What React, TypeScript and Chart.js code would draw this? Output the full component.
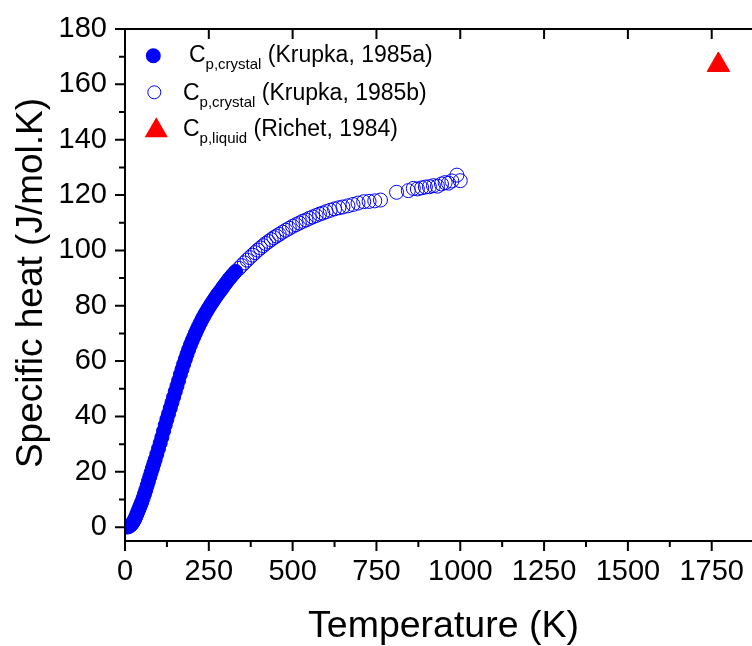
import React, { useEffect, useRef } from 'react';
import { Chart, registerables } from 'chart.js';

Chart.register(...registerables);

// ---- Data ----
const FILLED_T = [5, 8, 11, 14, 17, 20, 23, 26, 29, 32, 35, 38, 41, 44, 47, 50, 54, 58, 62, 66, 70, 74, 78, 82, 86, 90, 95, 100, 105, 110, 115, 120, 125, 130, 135, 140, 145, 150, 155, 160, 165, 170, 175, 180, 185, 190, 195, 200, 205, 210, 215, 220, 225, 230, 235, 240, 245, 250, 255, 260, 265, 270, 275, 280, 285, 290, 295, 300, 305, 310, 315, 320, 325, 330];
const FILLED_CP = [0.05, 0.1, 0.2, 0.4, 0.7, 1.1, 1.6, 2.2, 2.9, 3.7, 4.6, 5.5, 6.4, 7.3, 8.2, 9.1, 10.5, 11.9, 13.4, 15.0, 16.6, 18.2, 19.8, 21.3, 22.9, 24.4, 26.4, 28.4, 30.4, 32.5, 34.7, 36.9, 39.0, 41.0, 43.0, 45.0, 47.0, 49.0, 51.0, 53.0, 55.1, 57.0, 58.9, 60.7, 62.5, 64.2, 65.8, 67.3, 68.7, 70.1, 71.4, 72.7, 73.9, 75.1, 76.2, 77.3, 78.3, 79.3, 80.3, 81.2, 82.1, 83.0, 83.9, 84.7, 85.5, 86.3, 87.2, 88.0, 88.8, 89.6, 90.3, 91.0, 91.7, 92.4];

const OPEN_T = [340, 348, 356, 364, 372, 380, 388, 396, 404, 412, 420, 428, 436, 444, 452, 460, 470, 480, 490, 500, 510, 520, 530, 540, 550, 560, 570, 580, 590, 600, 612, 625, 638, 650, 665, 680, 695, 712, 728, 745, 762, 810, 845, 860, 872, 885, 896, 908, 920, 932, 944, 955, 965, 975, 990, 1000];
const OPEN_CP = [93.5, 94.5, 95.5, 96.5, 97.4, 98.3, 99.2, 100.1, 100.9, 101.7, 102.5, 103.2, 103.9, 104.6, 105.2, 105.8, 106.6, 107.3, 108.0, 108.7, 109.3, 109.9, 110.5, 111.0, 111.6, 112.1, 112.6, 113.1, 113.5, 114.0, 114.5, 115.0, 115.4, 115.7, 116.1, 116.6, 117.1, 117.6, 117.7, 117.9, 118.2, 121.0, 121.6, 122.4, 122.2, 122.6, 122.9, 123.0, 123.4, 123.2, 124.0, 124.5, 124.3, 125.1, 127.2, 125.2];

const LIQ_T = [1770];
const LIQ_CP = [167];

const X_MAJOR = [0, 250, 500, 750, 1000, 1250, 1500, 1750];
const X_MINOR = [125, 375, 625, 875, 1125, 1375, 1625, 1875];
const Y_MAJOR = [0, 20, 40, 60, 80, 100, 120, 140, 160, 180];
const Y_MINOR = [10, 30, 50, 70, 90, 110, 130, 150, 170];

const X_TITLE = 'Temperature (K)';
const Y_TITLE = 'Specific heat (J/mol.K)';

const LEGEND = [
  { main: 'C', sub: 'p,crystal', rest: ' (Krupka, 1985a)', lead: 6 },
  { main: 'C', sub: 'p,crystal', rest: ' (Krupka, 1985b)', lead: 0 },
  { main: 'C', sub: 'p,liquid', rest: ' (Richet, 1984)', lead: 0 },
];

const FONT = '"Liberation Sans", Arial, sans-serif';
const BLUE = '#0000ff';
const RED = '#ff0000';

const framePlugin = {
  id: 'originFrame',
  afterDatasetsDraw(chart: any) {
    const { ctx, chartArea } = chart;
    const { left, right, top, bottom } = chartArea;
    const xs = chart.scales.x;
    const ys = chart.scales.y;
    ctx.save();
    ctx.strokeStyle = '#000';
    ctx.lineWidth = 2;
    ctx.lineCap = 'butt';
    ctx.strokeRect(left, top, right - left, bottom - top);
    ctx.beginPath();
    X_MAJOR.forEach((v) => {
      const p = xs.getPixelForValue(v);
      ctx.moveTo(p, bottom);
      ctx.lineTo(p, bottom + 10);
      ctx.moveTo(p, top);
      ctx.lineTo(p, top + 10);
    });
    X_MINOR.forEach((v) => {
      const p = xs.getPixelForValue(v);
      ctx.moveTo(p, bottom);
      ctx.lineTo(p, bottom + 6);
    });
    Y_MAJOR.forEach((v) => {
      const p = ys.getPixelForValue(v);
      ctx.moveTo(left - 10, p);
      ctx.lineTo(left, p);
      ctx.moveTo(right - 10, p);
      ctx.lineTo(right, p);
    });
    Y_MINOR.forEach((v) => {
      const p = ys.getPixelForValue(v);
      ctx.moveTo(left - 6, p);
      ctx.lineTo(left, p);
    });
    ctx.stroke();
    ctx.restore();
  },
  afterDraw(chart: any) {
    const { ctx, chartArea } = chart;
    const { left, top, bottom } = chartArea;
    ctx.save();

    // y-axis title
    ctx.save();
    ctx.fillStyle = '#000';
    ctx.font = `37px ${FONT}`;
    ctx.textAlign = 'center';
    ctx.textBaseline = 'alphabetic';
    ctx.translate(41.5, (top + bottom) / 2 - 2);
    ctx.rotate(-Math.PI / 2);
    ctx.fillText(Y_TITLE, 0, 0);
    ctx.restore();

    // legend
    const markerX = left + 29;
    const textX = left + 58;
    const rowBase = [top + 32.7, top + 71, top + 107];
    ctx.fillStyle = BLUE;
    ctx.beginPath();
    ctx.arc(markerX - 0.7, rowBase[0] - 6, 7.5, 0, Math.PI * 2);
    ctx.fill();
    ctx.strokeStyle = BLUE;
    ctx.lineWidth = 1;
    ctx.beginPath();
    ctx.arc(markerX + 0.3, rowBase[1] - 7.7, 6.5, 0, Math.PI * 2);
    ctx.stroke();
    const cx = markerX + 2.3;
    const cy = rowBase[2] - 5.4;
    const r = 13.4;
    ctx.fillStyle = RED;
    ctx.beginPath();
    for (let i = 0; i < 3; i++) {
      const a = (i * 2 * Math.PI) / 3;
      const px = cx + Math.sin(a) * r;
      const py = cy - Math.cos(a) * r;
      if (i === 0) ctx.moveTo(px, py);
      else ctx.lineTo(px, py);
    }
    ctx.closePath();
    ctx.fill();
    ctx.fillStyle = '#000';
    ctx.textBaseline = 'alphabetic';
    ctx.textAlign = 'left';
    LEGEND.forEach((item, i) => {
      let x = textX + item.lead;
      const b = rowBase[i];
      ctx.font = `23px ${FONT}`;
      ctx.fillText(item.main, x, b);
      x += ctx.measureText(item.main).width;
      ctx.font = `15px ${FONT}`;
      ctx.fillText(item.sub, x, b + 7.3);
      x += ctx.measureText(item.sub).width;
      ctx.font = `23px ${FONT}`;
      ctx.fillText(item.rest, x, b);
    });
    ctx.restore();
  },
};

export default function App() {
  const ref = useRef<HTMLCanvasElement | null>(null);

  useEffect(() => {
    if (!ref.current) return;
    const filled = FILLED_T.map((t, i) => ({ x: t, y: FILLED_CP[i] }));
    const open = OPEN_T.map((t, i) => ({ x: t, y: OPEN_CP[i] }));
    const liq = LIQ_T.map((t, i) => ({ x: t, y: LIQ_CP[i] }));

    const chart = new Chart(ref.current, {
      type: 'scatter',
      data: {
        datasets: [
          {
            label: 'Cp,crystal (Krupka, 1985a)',
            data: filled,
            pointStyle: 'circle',
            pointRadius: 7,
            backgroundColor: BLUE,
            borderColor: BLUE,
            borderWidth: 1,
            clip: 0,
          },
          {
            label: 'Cp,crystal (Krupka, 1985b)',
            data: open,
            pointStyle: 'circle',
            pointRadius: 7,
            backgroundColor: 'rgba(0,0,0,0)',
            borderColor: BLUE,
            borderWidth: 1,
            clip: 0,
          },
          {
            label: 'Cp,liquid (Richet, 1984)',
            data: liq,
            pointStyle: 'triangle',
            pointRadius: 13,
            backgroundColor: RED,
            borderColor: RED,
            borderWidth: 1,
            clip: 0,
          },
        ],
      } as any,
      options: {
        animation: false,
        responsive: false,
        devicePixelRatio: 1,
        events: [],
        layout: { padding: { top: 29, right: 18, left: 0, bottom: 0 } },
        plugins: {
          legend: { display: false },
          tooltip: { enabled: false },
        },
        scales: {
          x: {
            type: 'linear',
            position: 'bottom',
            min: 0,
            max: 1900,
            grid: { display: false, drawTicks: false },
            border: { display: false },
            afterBuildTicks: (s: any) => {
              s.ticks = X_MAJOR.map((v) => ({ value: v }));
            },
            afterFit: (s: any) => {
              s.height = 105;
              s.paddingLeft = 0;
              s.paddingRight = 0;
              s.paddingTop = 0;
              s.paddingBottom = 0;
            },
            ticks: {
              autoSkip: false,
              maxRotation: 0,
              minRotation: 0,
              padding: 14,
              color: '#000',
              font: { family: FONT, size: 29 },
              callback: (v: any) => String(v),
            },
            title: {
              display: true,
              text: X_TITLE,
              color: '#000',
              font: { family: FONT, size: 37.5, lineHeight: 1 },
              padding: { top: 0, bottom: 1 },
            },
          },
          y: {
            type: 'linear',
            position: 'left',
            min: -5,
            max: 180,
            grid: { display: false, drawTicks: false },
            border: { display: false },
            afterBuildTicks: (s: any) => {
              s.ticks = Y_MAJOR.map((v) => ({ value: v }));
            },
            afterFit: (s: any) => {
              s.width = 125;
              s.paddingLeft = 0;
              s.paddingRight = 0;
              s.paddingTop = 0;
              s.paddingBottom = 0;
            },
            ticks: {
              autoSkip: false,
              padding: 18,
              color: '#000',
              font: { family: FONT, size: 29 },
              callback: (v: any) => String(v),
            },
            title: { display: false },
          },
        },
      } as any,
      plugins: [framePlugin],
    });
    return () => chart.destroy();
  }, []);

  return (
    <div
      style={{
        position: 'absolute',
        left: 0,
        top: 0,
        width: 752,
        height: 646,
        overflow: 'hidden',
        background: '#fff',
      }}
    >
      <canvas ref={ref} width={780} height={646} style={{ display: 'block', width: 780, height: 646 }} />
    </div>
  );
}
